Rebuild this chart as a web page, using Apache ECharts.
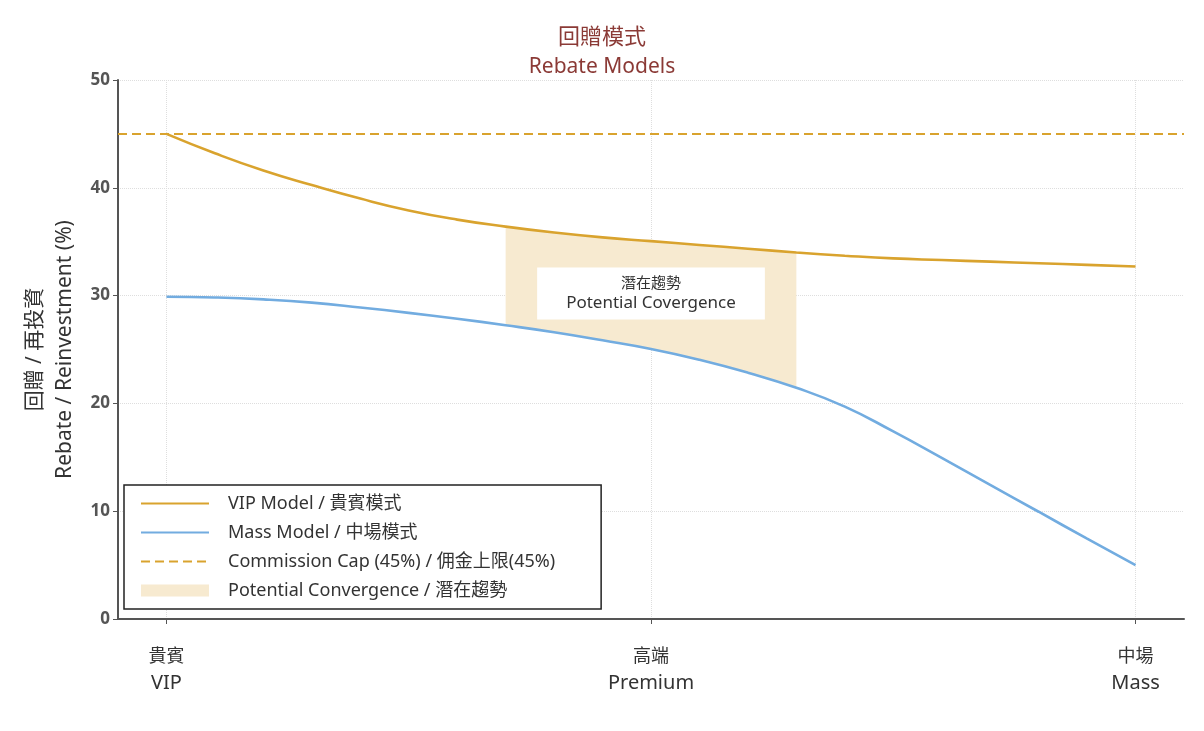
<!DOCTYPE html>
<html>
<head>
<meta charset="utf-8">
<script src="https://cdn.jsdelivr.net/npm/echarts@6/dist/echarts.min.js"></script>
<style>
html,body{margin:0;padding:0;background:#fff;}
#chart{width:1204px;height:731px;}
</style>
</head>
<body>
<div id="chart"></div>
<script>
// ---- Data ----
const xPositions = [0,0.1,0.2,0.3,0.4,0.5,0.6,0.7,0.8,0.9,1.0,1.1,1.2,1.3,1.4,1.5,1.6,1.7,1.8,1.9,2.0];
const vipValues  = [45.0,43.2,41.6,40.25,39.0,37.9,37.05,36.4,35.85,35.4,35.05,34.7,34.35,34.0,33.7,33.45,33.3,33.15,33.0,32.85,32.7];
const massValues = [29.9,29.83,29.65,29.35,28.9,28.4,27.85,27.25,26.6,25.85,25.05,24.05,22.85,21.45,19.7,17.4,14.95,12.45,9.95,7.45,5.0];
const capValue = 45;
const convergenceRange = [0.7, 1.3];
const categoriesZh = ['貴賓','高端','中場'];
const categoriesEn = ['VIP','Premium','Mass'];
const categoryPositions = [0,1,2];
const yTicks = [0,10,20,30,40,50];
const seriesNames = ['VIP Model / 貴賓模式','Mass Model / 中場模式','Commission Cap (45%) / 佣金上限(45%)','Potential Convergence / 潛在趨勢'];
const annotationZh = '潛在趨勢';
const annotationEn = 'Potential Covergence';
const annotationPos = [1.0, 30.2];

const vipData = xPositions.map((x,i)=>[x, vipValues[i]]);
const massData = xPositions.map((x,i)=>[x, massValues[i]]);
const convIdx = xPositions.map((x,i)=>i).filter(i=>xPositions[i]>=convergenceRange[0]-1e-9 && xPositions[i]<=convergenceRange[1]+1e-9);

const VIP_COLOR = '#d9a32e';
const MASS_COLOR = '#72ace0';
const BAND_COLOR = '#f7ead0';
const FONT = '"Noto Sans","Noto Sans CJK TC",sans-serif';

const chart = echarts.init(document.getElementById('chart'));
chart.setOption({
  animation:false,
  backgroundColor:'#fff',
  textStyle:{fontFamily:FONT},
  title:{
    text:'回贈模式', subtext:'Rebate Models', left:'center', top:22, itemGap:8,
    textStyle:{fontSize:22, fontWeight:'normal', color:'#8b3a36', fontFamily:FONT},
    subtextStyle:{fontSize:21, color:'#8b3a36', fontFamily:FONT}
  },
  grid:{left:118, right:20, top:80, bottom:112, containLabel:false},
  legend:{
    orient:'vertical', left:124, top:485,
    data:[
      {name:seriesNames[0]},
      {name:seriesNames[1]},
      {name:seriesNames[2]},
      {name:seriesNames[3], icon:'rect', itemStyle:{color:BAND_COLOR, opacity:1}}
    ],
    itemStyle:{opacity:0},
    itemWidth:68, itemHeight:12, itemGap:10,
    padding:[9,46,9,16],
    backgroundColor:'#fff', borderColor:'#222', borderWidth:1.5,
    textStyle:{fontSize:18, color:'#333', lineHeight:19, padding:[0,0,0,14], fontFamily:FONT},
    selectedMode:false
  },
  xAxis:{
    type:'value', min:-0.1, max:2.1,
    axisLine:{show:true, onZero:false, lineStyle:{color:'#555', width:2}},
    axisTick:{show:true, customValues:categoryPositions, length:5, lineStyle:{color:'#555'}},
    axisLabel:{
      customValues:categoryPositions, margin:24,
      formatter:function(v){
        const i = categoryPositions.indexOf(Math.round(v));
        return i<0 ? '' : '{zh|'+categoriesZh[i]+'}\n{en|'+categoriesEn[i]+'}';
      },
      rich:{
        zh:{fontSize:18, color:'#333', lineHeight:27, fontFamily:FONT},
        en:{fontSize:20, color:'#333', lineHeight:27, fontFamily:FONT}
      }
    },
    splitLine:{show:true, lineStyle:{color:'#dedede', type:'dotted', width:1}}
  },
  yAxis:{
    type:'value', min:yTicks[0], max:yTicks[yTicks.length-1], interval:10,
    name:'回贈 / 再投資\nRebate / Reinvestment (%)',
    nameLocation:'middle', nameGap:35, nameRotate:90,
    nameTextStyle:{fontSize:21, color:'#333', lineHeight:30, fontFamily:FONT},
    axisLine:{show:true, onZero:false, lineStyle:{color:'#555', width:2}},
    axisTick:{show:true, length:5, lineStyle:{color:'#555'}},
    axisLabel:{fontSize:17, fontWeight:'bold', color:'#555', margin:8, fontFamily:FONT},
    splitLine:{show:true, lineStyle:{color:'#dedede', type:'dotted', width:1}}
  },
  series:[
    {
      name:seriesNames[3], type:'custom', silent:true, z:1,
      itemStyle:{color:BAND_COLOR},
      data:[[convergenceRange[0], 0]],
      encode:{x:0, y:1},
      renderItem:function(params, api){
        const top = convIdx.map(i=>api.coord([xPositions[i], vipValues[i]]));
        const bottom = convIdx.slice().reverse().map(i=>api.coord([xPositions[i], massValues[i]]));
        return {
          type:'polygon',
          shape:{points: top.concat(bottom)},
          style:{fill:BAND_COLOR, stroke:null}
        };
      }
    },
    {
      name:seriesNames[0], type:'line', data:vipData, smooth:true, symbol:'none',
      color:VIP_COLOR, lineStyle:{color:VIP_COLOR, width:2.6}, z:3
    },
    {
      name:seriesNames[1], type:'line', data:massData, smooth:true, symbol:'none',
      color:MASS_COLOR, lineStyle:{color:MASS_COLOR, width:2.6}, z:3
    },
    {
      name:seriesNames[2], type:'line', data:[[-0.1,capValue],[2.1,capValue]], symbol:'none',
      color:VIP_COLOR, lineStyle:{color:VIP_COLOR, width:2, type:[9,5]}, z:2
    },
    {
      name:'__annotation', type:'scatter', data:[annotationPos], symbolSize:1,
      itemStyle:{color:'rgba(0,0,0,0)', opacity:1}, silent:true, z:4,
      label:{
        show:true, position:'inside', opacity:1,
        formatter:'{zh|'+annotationZh+'}\n{en|'+annotationEn+'}',
        backgroundColor:'#ffffff', padding:[6,29,6,29], align:'center',
        rich:{
          zh:{fontSize:15, lineHeight:20, color:'#333', fontFamily:FONT, align:'center'},
          en:{fontSize:17, lineHeight:20, color:'#333', fontFamily:FONT, align:'center'}
        }
      }
    }
  ]
});
</script>
</body>
</html>
